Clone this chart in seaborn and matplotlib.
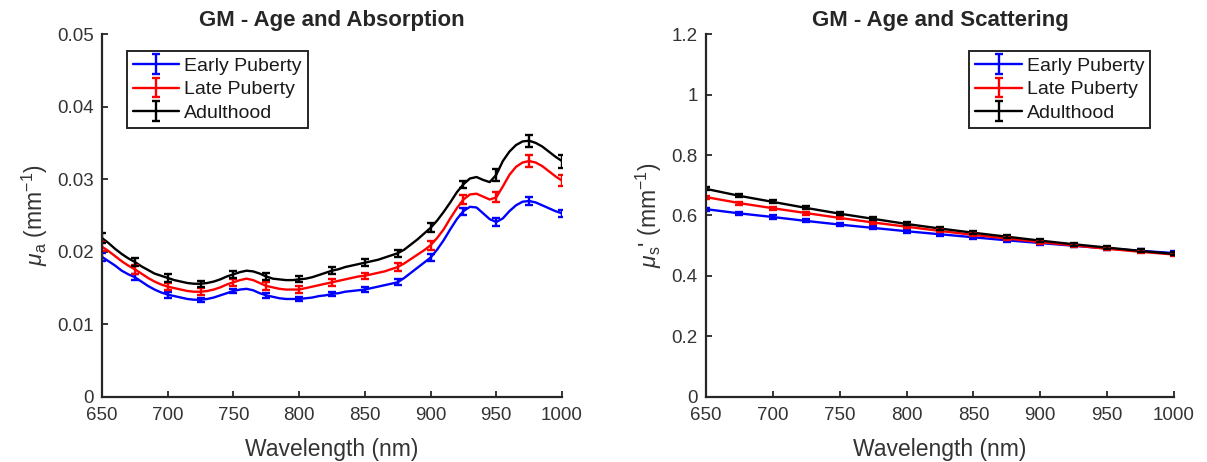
import numpy as np
import pandas as pd
import matplotlib
matplotlib.use("Agg")
import matplotlib.pyplot as plt
import seaborn as sns

# ---------------- data ----------------
groups = ["Early Puberty", "Late Puberty", "Adulthood"]
colors = ["#0000ff", "#ff0000", "#000000"]

# fine wavelength grid for the smooth spectra (5 nm)
wl_fine = list(range(650, 1001, 5))
# wavelengths where error bars are drawn (25 nm)
wl_err = list(range(650, 1001, 25))

mua_early = [0.0193, 0.0187, 0.0181, 0.0174, 0.0169, 0.0165, 0.0159, 0.0153, 0.0148, 0.0144,
             0.0141, 0.0139, 0.0137, 0.0135, 0.0134, 0.0134, 0.0135, 0.0137, 0.0140, 0.0143,
             0.0146, 0.0148, 0.0149, 0.0147, 0.0143, 0.0140, 0.0138, 0.0136, 0.0135, 0.0135,
             0.0135, 0.0136, 0.0137, 0.0139, 0.0140, 0.0142, 0.0143, 0.0145, 0.0146, 0.0147,
             0.0148, 0.0150, 0.0152, 0.0154, 0.0156, 0.0158, 0.0164, 0.0171, 0.0178, 0.0185,
             0.0192, 0.0203, 0.0216, 0.0231, 0.0245, 0.0256, 0.0262, 0.0261, 0.0253, 0.0245,
             0.0241, 0.0246, 0.0256, 0.0264, 0.0269, 0.0270, 0.0268, 0.0264, 0.0260, 0.0256,
             0.0253]
mua_late = [0.0207, 0.0201, 0.0194, 0.0187, 0.0181, 0.0176, 0.0170, 0.0164, 0.0159, 0.0155,
            0.0152, 0.0150, 0.0148, 0.0146, 0.0145, 0.0145, 0.0146, 0.0148, 0.0151, 0.0155,
            0.0158, 0.0161, 0.0163, 0.0161, 0.0157, 0.0153, 0.0151, 0.0149, 0.0148, 0.0148,
            0.0148, 0.0150, 0.0152, 0.0154, 0.0156, 0.0158, 0.0160, 0.0162, 0.0164, 0.0166,
            0.0167, 0.0169, 0.0171, 0.0173, 0.0176, 0.0179, 0.0184, 0.0190, 0.0196, 0.0202,
            0.0209, 0.0219, 0.0231, 0.0246, 0.0260, 0.0272, 0.0279, 0.0280, 0.0276, 0.0272,
            0.0275, 0.0290, 0.0306, 0.0317, 0.0323, 0.0325, 0.0323, 0.0318, 0.0311, 0.0304,
            0.0298]
mua_adult = [0.0219, 0.0212, 0.0204, 0.0197, 0.0191, 0.0186, 0.0180, 0.0175, 0.0170, 0.0167,
             0.0164, 0.0161, 0.0159, 0.0157, 0.0156, 0.0156, 0.0157, 0.0159, 0.0162, 0.0166,
             0.0169, 0.0172, 0.0174, 0.0173, 0.0170, 0.0166, 0.0163, 0.0162, 0.0161, 0.0161,
             0.0162, 0.0163, 0.0165, 0.0168, 0.0171, 0.0174, 0.0176, 0.0179, 0.0181, 0.0183,
             0.0185, 0.0187, 0.0189, 0.0192, 0.0195, 0.0198, 0.0203, 0.0210, 0.0217, 0.0225,
             0.0233, 0.0243, 0.0255, 0.0268, 0.0282, 0.0293, 0.0301, 0.0303, 0.0299, 0.0296,
             0.0306, 0.0325, 0.0338, 0.0347, 0.0352, 0.0353, 0.0350, 0.0345, 0.0338, 0.0331,
             0.0325]

mua_err_early = [0.0005, 0.0004, 0.0004, 0.0003, 0.0003, 0.0003, 0.0003, 0.0003, 0.0003, 0.0004,
                 0.0005, 0.0005, 0.0005, 0.0005, 0.0005]
mua_err_late = [0.0006, 0.0006, 0.0005, 0.0005, 0.0005, 0.0005, 0.0005, 0.0005, 0.0004, 0.0005,
                0.0006, 0.0006, 0.0007, 0.0008, 0.0008]
mua_err_adult = [0.0007, 0.0006, 0.0005, 0.0004, 0.0005, 0.0005, 0.0004, 0.0005, 0.0005, 0.0005,
                 0.0006, 0.0005, 0.0008, 0.0008, 0.0009]

mus_early = [0.621, 0.607, 0.595, 0.582, 0.570, 0.559, 0.548, 0.538, 0.528, 0.518,
             0.509, 0.500, 0.491, 0.483, 0.476]
mus_late = [0.661, 0.641, 0.624, 0.608, 0.592, 0.577, 0.563, 0.549, 0.536, 0.524,
            0.512, 0.501, 0.490, 0.480, 0.471]
mus_adult = [0.688, 0.665, 0.645, 0.625, 0.606, 0.589, 0.572, 0.557, 0.543, 0.530,
             0.517, 0.505, 0.494, 0.483, 0.473]
mus_err_early = [0.005] * 15
mus_err_late = [0.005] * 15
mus_err_adult = [0.005] * 15

xticks = [650, 700, 750, 800, 850, 900, 950, 1000]
yticks_a = [0, 0.01, 0.02, 0.03, 0.04, 0.05]
yticklabels_a = ["0", "0.01", "0.02", "0.03", "0.04", "0.05"]
yticks_s = [0, 0.2, 0.4, 0.6, 0.8, 1.0, 1.2]
yticklabels_s = ["0", "0.2", "0.4", "0.6", "0.8", "1", "1.2"]

# ---------------- style ----------------
sns.set_theme(style="white")
plt.rcParams["font.family"] = ["Liberation Sans", "DejaVu Sans"]
plt.rcParams["mathtext.fontset"] = "custom"
plt.rcParams["mathtext.rm"] = "Liberation Sans"
plt.rcParams["mathtext.it"] = "Liberation Sans:italic"
plt.rcParams["mathtext.bf"] = "Liberation Sans:bold"

fig = plt.figure(figsize=(12.07, 4.62), dpi=100)
ax1 = fig.add_axes([0.0845, 0.1407, 0.3811, 0.7857])
ax2 = fig.add_axes([0.5849, 0.1407, 0.3877, 0.7857])

axcol = "#262626"
txtcol = "#333333"

def style_axes(ax, yticks, ylabels, ylim, title, ylabel):
    ax.set_xlim(650, 1000)
    ax.set_ylim(*ylim)
    ax.set_xticks(xticks)
    ax.set_xticklabels([str(v) for v in xticks])
    ax.set_yticks(yticks)
    ax.set_yticklabels(ylabels)
    for s in ["top", "right"]:
        ax.spines[s].set_visible(False)
    for s in ["left", "bottom"]:
        ax.spines[s].set_color(axcol)
        ax.spines[s].set_linewidth(1.6)
    ax.tick_params(axis="both", which="both", direction="in", length=4, width=1.3,
                   color=axcol, labelsize=13.5, labelcolor=txtcol, left=True, bottom=True)
    ax.tick_params(axis="x", pad=7)
    ax.tick_params(axis="y", pad=6)
    ax.set_xlabel("Wavelength (nm)", fontsize=16.5, color=txtcol, labelpad=10)
    ax.set_ylabel(ylabel, fontsize=16.5, color=txtcol, labelpad=5)
    ax.set_title(title, fontsize=16, fontweight="bold", pad=6)
    ax.grid(False)

# absorption (left)
fine_df = pd.DataFrame({
    "wl": wl_fine * 3,
    "val": mua_early + mua_late + mua_adult,
    "grp": [groups[0]] * len(wl_fine) + [groups[1]] * len(wl_fine) + [groups[2]] * len(wl_fine),
})
sns.lineplot(data=fine_df, x="wl", y="val", hue="grp", palette=dict(zip(groups, colors)),
             linewidth=1.7, legend=False, ax=ax1, estimator=None, sort=False)
idx = [wl_fine.index(w) for w in wl_err]
for vals, errs, c in zip([mua_early, mua_late, mua_adult],
                         [mua_err_early, mua_err_late, mua_err_adult], colors):
    ax1.errorbar(wl_err, [vals[i] for i in idx], yerr=errs, fmt="none", ecolor=c,
                 elinewidth=1.7, capsize=3, capthick=1.7)

# scattering (right)
coarse_df = pd.DataFrame({
    "wl": wl_err * 3,
    "val": mus_early + mus_late + mus_adult,
    "grp": [groups[0]] * len(wl_err) + [groups[1]] * len(wl_err) + [groups[2]] * len(wl_err),
})
sns.lineplot(data=coarse_df, x="wl", y="val", hue="grp", palette=dict(zip(groups, colors)),
             linewidth=1.7, legend=False, ax=ax2, estimator=None, sort=False)
for vals, errs, c in zip([mus_early, mus_late, mus_adult],
                         [mus_err_early, mus_err_late, mus_err_adult], colors):
    ax2.errorbar(wl_err, vals, yerr=errs, fmt="none", ecolor=c,
                 elinewidth=1.7, capsize=3, capthick=1.7)

# legend handles (errorbar-style)
def legend_handles(ax):
    hs = []
    for g, c in zip(groups, colors):
        h = ax.errorbar([np.nan], [np.nan], yerr=[np.nan], fmt="-", color=c, ecolor=c,
                        linewidth=1.7, elinewidth=1.7, capsize=3, capthick=1.7, label=g)
        hs.append(h)
    return hs

style_axes(ax1, yticks_a, yticklabels_a, (0, 0.05), "GM - Age and Absorption",
           r"$\mu_{\rm a}$ (mm$^{-1}$)")
style_axes(ax2, yticks_s, yticklabels_s, (0, 1.2), "GM - Age and Scattering",
           r"$\mu_{\rm s}$' (mm$^{-1}$)")

for ax, loc, anchor in [(ax1, "upper left", (0.054, 0.952)), (ax2, "upper right", (0.949, 0.952))]:
    hs = legend_handles(ax)
    leg = ax.legend(handles=hs, loc=loc, bbox_to_anchor=anchor, fontsize=14, frameon=True,
                    fancybox=False, edgecolor="#262626", framealpha=1, borderpad=0.3,
                    labelspacing=0.3, handlelength=2.4, handletextpad=0.25, borderaxespad=0)
    leg.get_frame().set_linewidth(1.4)
    for t in leg.get_texts():
        t.set_color("#1a1a1a")

fig.savefig("out.png", dpi=100)
